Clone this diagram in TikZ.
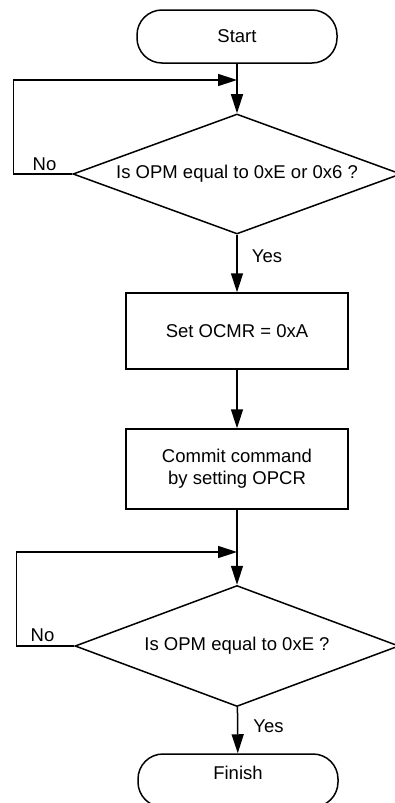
\documentclass[tikz,border=0pt]{standalone}
\usepackage{fontspec}
\setmainfont{Liberation Sans}
\usetikzlibrary{shapes.geometric,arrows.meta}

\begin{document}
\begin{tikzpicture}[x=1pt, y=-1pt, line width=1.5pt,
  every node/.style={font=\fontsize{18.5}{22}\selectfont},
  terminal/.style={draw, rectangle, rounded corners=25pt, minimum width=200pt, minimum height=53pt},
  decision/.style={draw, diamond, shape aspect=2.7, inner sep=0pt, minimum width=328pt, minimum height=120pt},
  process/.style={draw, rectangle, minimum width=222pt, align=center},
  flow/.style={-{Triangle[length=19pt,width=12pt]}}]
  \useasboundingbox (0,0) rectangle (395,803);
  \clip (0,0) rectangle (395,803);

  \node[terminal] (start) at (237,36.5) {Start};
  \node[decision] (opm1) at (237,174) {Is OPM equal to 0xE or 0x6 ?};
  \node[process, minimum height=76pt] (ocmr) at (237,331) {Set OCMR = 0xA};
  \node[process, minimum height=80pt] (opcr) at (237,469) {Commit command\\by setting OPCR};
  \node[decision, minimum width=324pt, minimum height=121pt] (opm2) at (237,646) {Is OPM equal to 0xE ?};
  \node[terminal, text height=13.5pt, text depth=16.5pt] (finish) at (238,780.5) {Finish};

  \coordinate (in1) at (237,80);
  \coordinate (in2) at (237,552);

  \node (no1) at (44.5,164) {No};
  \node (yes1) at (267,256) {Yes};
  \node (no2) at (42.5,635) {No};
  \node (yes2) at (268.5,726) {Yes};

  \draw[flow] (start) -- (opm1);
  \draw[flow] (opm1.west) -- ++(-59,0) |- (in1);
  \draw[flow] (opm1) -- (ocmr);
  \draw[flow] (ocmr) -- (opcr);
  \draw[flow] (opcr) -- (opm2);
  \draw[flow] (opm2.west) -- ++(-58,0) |- (in2); % back to the second test
  \draw[flow] (opm2) -- (finish);
\end{tikzpicture}
\end{document}
